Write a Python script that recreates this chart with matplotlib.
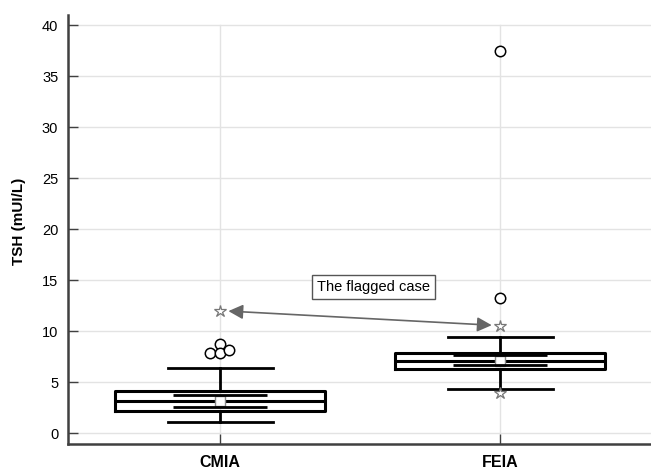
import numpy as np
import matplotlib
matplotlib.use("Agg")
import matplotlib.pyplot as plt

plt.rcParams['font.family'] = ['Liberation Sans', 'DejaVu Sans']

groups = ["CMIA", "FEIA"]
q1 = [2.19, 6.27]
median = [3.17, 7.12]
q3 = [4.15, 7.84]
ci_low = [2.61, 6.70]
ci_high = [3.75, 7.65]
whisker_low = [1.08, 4.31]
whisker_high = [6.36, 9.41]
means = [3.2, 7.12]

outlier_group = [0, 0, 0, 0, 1, 1]
outlier_values = [7.9, 8.75, 7.84, 8.17, 13.24, 37.48]
outlier_jitter = [-0.035, 0.0, 0.0, 0.032, 0.0, 0.0]

flag_group = [0, 1, 1]
flag_values = [12.02, 10.55, 3.92]

fig = plt.figure(figsize=(6.51, 4.69), dpi=100)
ax = fig.add_axes([0.1045, 0.0527, 0.8955, 0.9153])

# grid
for v in range(0, 45, 5):
    ax.plot([-0.543, 1.539], [v, v], color="#e3e3e3", lw=1, zorder=0)
for i in range(len(groups)):
    ax.plot([i, i], [0, 40], color="#e3e3e3", lw=1, zorder=0)

stats = []
for i in range(len(groups)):
    stats.append(dict(med=median[i], q1=q1[i], q3=q3[i], whislo=whisker_low[i],
                      whishi=whisker_high[i], fliers=[], mean=means[i]))

ax.bxp(stats, positions=range(len(groups)), widths=0.75, capwidths=0.375,
       showmeans=True, showfliers=False,
       boxprops=dict(color="black", lw=2.2),
       medianprops=dict(color="black", lw=2.2),
       whiskerprops=dict(color="black", lw=2.0),
       capprops=dict(color="black", lw=2.0),
       meanprops=dict(marker="s", markerfacecolor="white", markeredgecolor="#888888",
                      markersize=7, markeredgewidth=1.0),
       manage_ticks=False)

# median confidence interval lines
ax.hlines(ci_low, np.arange(2) - 0.168, np.arange(2) + 0.168, color="black", lw=2.0, zorder=3)
ax.hlines(ci_high, np.arange(2) - 0.168, np.arange(2) + 0.168, color="black", lw=2.0, zorder=3)

ax.plot(np.array(outlier_group) + np.array(outlier_jitter), outlier_values, "o",
        markerfacecolor="white", markeredgecolor="black", markersize=7.5,
        markeredgewidth=1.1, zorder=4)
ax.plot(flag_group, flag_values, "*", markerfacecolor="white", markeredgecolor="#777777",
        markersize=9, markeredgewidth=0.9, zorder=4)

ax.annotate("", xy=(1, flag_values[1]), xytext=(0, flag_values[0]),
            arrowprops=dict(arrowstyle="<|-|>", color="#666666", lw=1.2,
                            mutation_scale=22, shrinkA=6, shrinkB=6))
ax.text(0.548, 14.34, "The flagged case", ha="center", va="center", fontsize=10.5,
        bbox=dict(boxstyle="square,pad=0.35", facecolor="white", edgecolor="#555555", lw=1))

ax.set_xlim(-0.543, 1.539)
ax.set_ylim(-1.08, 41.0)
ax.set_yticks(range(0, 45, 5))
ax.set_xticks(range(len(groups)))
ax.set_xticklabels(groups, fontweight="bold", fontsize=11.5)
ax.tick_params(axis="y", direction="in", length=7, width=1, color="#404040", labelsize=10.5, pad=7)
ax.tick_params(axis="x", direction="in", length=7, width=1, color="#404040", pad=8)
ax.set_ylabel("TSH (mUI/L)", fontweight="bold", fontsize=11)
ax.yaxis.set_label_coords(-0.072, 0.52)

for s in ["top", "right"]:
    ax.spines[s].set_visible(False)
for s in ["left", "bottom"]:
    ax.spines[s].set_color("#404040")
    ax.spines[s].set_linewidth(1.8)

fig.savefig("out.png", dpi=100)
